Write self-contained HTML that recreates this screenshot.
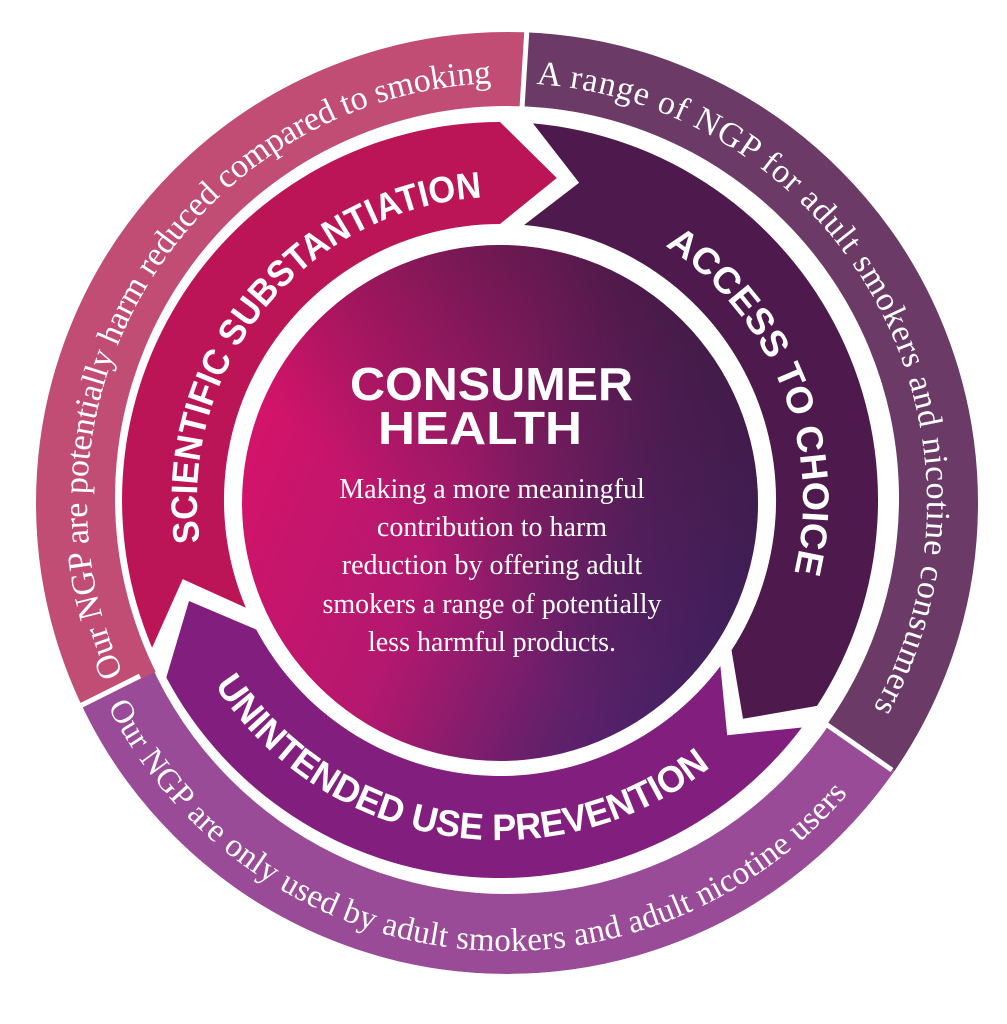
<!DOCTYPE html>
<html><head><meta charset="utf-8"><style>
html,body{margin:0;padding:0;background:#fff;}
svg{display:block;}
.ser{font-family:"Liberation Serif",serif;fill:#fff;}
.bold{font-family:"Liberation Sans",sans-serif;font-weight:bold;fill:#fff;}
</style></head><body>
<svg width="1007" height="1024" viewBox="0 0 1007 1024" xmlns="http://www.w3.org/2000/svg">
<defs>
<linearGradient id="cg" x1="0" y1="0.35" x2="1" y2="0.75">
<stop offset="0" stop-color="#d5136a"/>
<stop offset="0.4" stop-color="#b3186f"/>
<stop offset="0.72" stop-color="#62206a"/>
<stop offset="1" stop-color="#3e226a"/>
</linearGradient>
<linearGradient id="cg2" x1="0.9" y1="0.05" x2="0.35" y2="0.6">
<stop offset="0" stop-color="#3a1a3f" stop-opacity="0.9"/>
<stop offset="1" stop-color="#3a1a3f" stop-opacity="0"/>
</linearGradient>
<path id="tp1" d="M123.3,673.8 A420,420 0 0 1 507,83"/>
<path id="tp2" d="M536.3,84 A420,420 0 0 1 870.7,713"/>
<path id="tp3" d="M107.8,706.4 A448,448 0 0 0 860,778.8"/>
<path id="ap1" d="M199.9,542.2 A303,303 0 0 1 489.4,197.2"/>
<path id="ap2" d="M665,245.9 A303,303 0 0 1 792.7,578.4"/>
<path id="ap3" d="M214.8,685.2 A340,340 0 0 0 718.6,760.4"/>
</defs>

<circle cx="507" cy="503" r="431" fill="none" stroke="#9a4b98" stroke-width="80"/>
<path d="M507,503 L72,712 A480,480 0 0 1 525,22 Z" fill="#c24d74"/>
<path d="M507,503 L525,22 A481,481 0 0 1 902,776 Z" fill="#6b3a66"/>
<circle cx="507" cy="498" r="392" fill="#fff"/>
<line x1="527" y1="28" x2="522" y2="108" stroke="#fff" stroke-width="5"/>
<line x1="68" y1="712" x2="140" y2="676" stroke="#fff" stroke-width="5"/>
<line x1="823" y1="722" x2="892" y2="770" stroke="#fff" stroke-width="5"/>
<circle cx="507" cy="503" r="500" fill="none" stroke="#fff" stroke-width="58"/>

<path d="M152.1,647.7 A378,378 0 0 1 500,122 L556.8,178 L500,224 A276,276 0 0 0 245.9,607.8 L182.7,579.1 Z" fill="#bb1558"/>
<path d="M533,123.4 A378,378 0 0 1 817,705.9 L743,718.8 L731.5,650.3 A276,276 0 0 0 524.1,225 L579.1,182.7 Z" fill="#4e1a4d"/>
<path d="M801.9,727.5 A378,378 0 0 1 166.3,677.5 L189,601 L256.3,629.6 A276,276 0 0 0 720.4,666.1 L727.2,735.2 Z" fill="#821f7e"/>

<circle cx="500" cy="503" r="258" fill="url(#cg)"/>
<circle cx="500" cy="503" r="258" fill="url(#cg2)"/>

<text class="ser" font-size="34"><textPath href="#tp1" textLength="820" lengthAdjust="spacing">Our NGP are potentially harm reduced compared to smoking</textPath></text>
<text class="ser" font-size="34"><textPath href="#tp2" textLength="845" lengthAdjust="spacing">A range of NGP for adult smokers and nicotine consumers</textPath></text>
<text class="ser" font-size="33"><textPath href="#tp3" textLength="880" lengthAdjust="spacing">Our NGP are only used by adult smokers and adult nicotine users</textPath></text>

<text class="bold" font-size="37"><textPath href="#ap1" textLength="500" lengthAdjust="spacingAndGlyphs">SCIENTIFIC SUBSTANTIATION</textPath></text>
<text class="bold" font-size="37"><textPath href="#ap2" textLength="375" lengthAdjust="spacingAndGlyphs">ACCESS TO CHOICE</textPath></text>
<text class="bold" font-size="37"><textPath href="#ap3" textLength="565" lengthAdjust="spacingAndGlyphs">UNINTENDED USE PREVENTION</textPath></text>

<text class="bold" font-size="46" x="350" y="400" textLength="283" lengthAdjust="spacingAndGlyphs">CONSUMER</text>
<text class="bold" font-size="46" x="378" y="444" textLength="204" lengthAdjust="spacingAndGlyphs">HEALTH</text>
<g class="ser" font-size="28" text-anchor="middle">
<text x="492" y="498">Making a more meaningful</text>
<text x="492" y="536">contribution to harm</text>
<text x="492" y="574">reduction by offering adult</text>
<text x="492" y="613">smokers a range of potentially</text>
<text x="492" y="651">less harmful products.</text>
</g>
</svg>
</body></html>
